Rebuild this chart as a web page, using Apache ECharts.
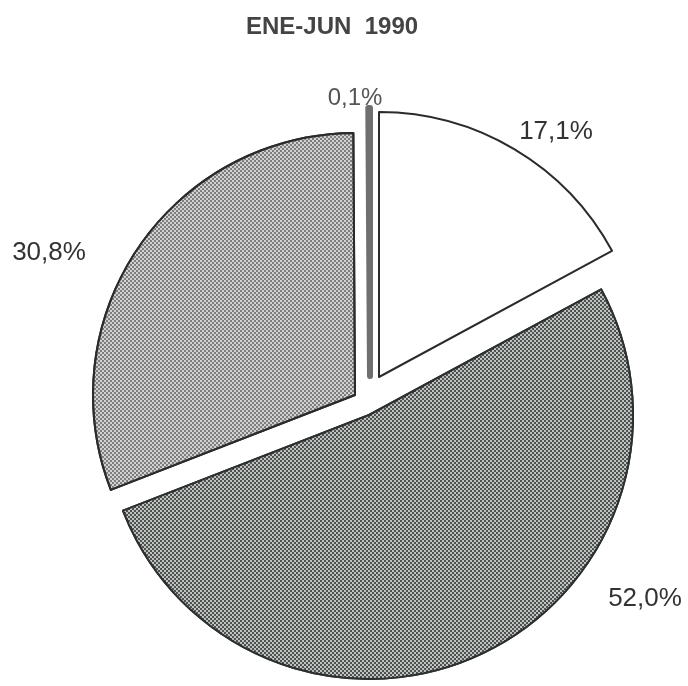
<!DOCTYPE html>
<html>
<head>
<meta charset="utf-8">
<script src="https://cdn.jsdelivr.net/npm/echarts@6/dist/echarts.min.js"></script>
<style>
  html, body { margin: 0; padding: 0; background: #fff; }
  #container { width: 688px; height: 686px; }
</style>
</head>
<body>
<div id="container"></div>
<script>
(function () {
  'use strict';

  // chart data
  var categories = ['A', 'B', 'C', 'D'];
  var shares = [17.1, 52.0, 30.8, 0.1];
  var chartTitle = 'ENE-JUN  1990';

  // each slice is pulled out by a different amount, so every slice gets its own series
  var sliceCenters = [[379, 377], [369, 415], [355, 395], [370, 376]];
  var sliceRadius = [265, 264, 262, 268];
  var labelSpots = [[556, 132], [645, 599], [49, 253], [355, 98]];

  var sliceStyles = [
    { color: '#ffffff', borderColor: '#2b2b2b', borderWidth: 2 },
    {
      color: '#4d524f', borderColor: '#2c302e', borderWidth: 2,
      decal: {
        symbol: 'circle', symbolSize: 1, color: '#e6e9e7',
        dashArrayX: [[2, 2], [0, 2, 2, 0]], dashArrayY: [2, 0]
      }
    },
    {
      color: '#d2d2d2', borderColor: '#2b2b2b', borderWidth: 2,
      decal: {
        symbol: 'circle', symbolSize: 0.9, color: '#555555',
        dashArrayX: [[1.6, 1.6], [0, 1.6, 1.6, 0]], dashArrayY: [1.6, 0]
      }
    },
    { color: '#8a8a8a', borderColor: '#6f6f6f', borderWidth: 6 }
  ];

  function fmt(v) {
    return v.toFixed(1).replace('.', ',') + '%';
  }

  var dom = document.getElementById('container');
  var chart = echarts.init(dom, null, { renderer: 'canvas' });

  var series = categories.map(function (cat, k) {
    return {
      type: 'pie',
      center: sliceCenters[k],
      radius: sliceRadius[k],
      startAngle: 90,
      clockwise: true,
      silent: true,
      animation: false,
      avoidLabelOverlap: false,
      labelLine: { show: false },
      emphasis: { disabled: true },
      labelLayout: function () {
        return { x: labelSpots[k][0], y: labelSpots[k][1], align: 'center', verticalAlign: 'middle' };
      },
      data: categories.map(function (name, i) {
        var own = i === k;
        return {
          name: name,
          value: shares[i],
          itemStyle: own ? sliceStyles[i] : { color: 'transparent', borderWidth: 0 },
          label: own ? {
            show: true,
            formatter: function (p) { return fmt(p.value); },
            fontFamily: 'Liberation Sans, Arial, sans-serif',
            fontSize: i === 3 ? 24 : 26,
            color: i === 3 ? '#555' : '#333'
          } : { show: false }
        };
      })
    };
  });

  chart.setOption({
    backgroundColor: '#ffffff',
    title: {
      text: chartTitle,
      left: 241,
      top: 10,
      textStyle: {
        fontFamily: 'Liberation Sans, Arial, sans-serif',
        fontWeight: 'bold',
        fontSize: 24,
        color: '#444444'
      }
    },
    series: series
  });

  window.addEventListener('resize', function () {
    chart.resize();
  });
})();
</script>
</body>
</html>
